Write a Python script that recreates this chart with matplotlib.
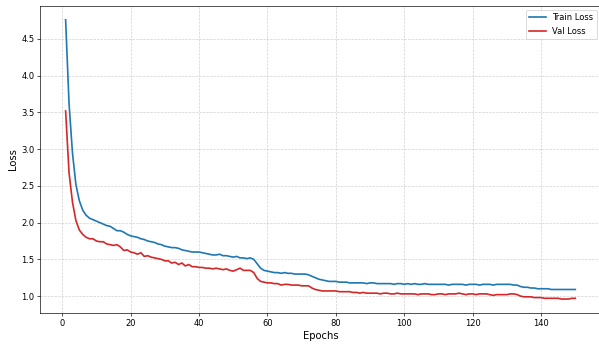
import numpy as np
import matplotlib.pyplot as plt

train_loss = [
    4.76, 3.62, 2.95, 2.52, 2.30, 2.17, 2.10, 2.06, 2.04, 2.02,
    2.00, 1.98, 1.96, 1.95, 1.92, 1.89, 1.89, 1.87, 1.84, 1.82,
    1.81, 1.80, 1.78, 1.77, 1.75, 1.74, 1.73, 1.71, 1.70, 1.68,
    1.67, 1.66, 1.66, 1.65, 1.63, 1.62, 1.61, 1.60, 1.60, 1.60,
    1.59, 1.58, 1.57, 1.56, 1.56, 1.57, 1.55, 1.55, 1.54, 1.53,
    1.54, 1.52, 1.52, 1.51, 1.52, 1.50, 1.44, 1.38, 1.35, 1.34,
    1.33, 1.32, 1.32, 1.31, 1.32, 1.31, 1.31, 1.30, 1.30, 1.30,
    1.30, 1.29, 1.27, 1.25, 1.23, 1.22, 1.21, 1.20, 1.20, 1.20,
    1.19, 1.19, 1.19, 1.18, 1.18, 1.18, 1.18, 1.18, 1.17, 1.18,
    1.18, 1.17, 1.17, 1.17, 1.17, 1.17, 1.16, 1.17, 1.17, 1.16,
    1.17, 1.16, 1.17, 1.16, 1.16, 1.17, 1.16, 1.16, 1.16, 1.16,
    1.16, 1.16, 1.15, 1.16, 1.16, 1.16, 1.16, 1.15, 1.16, 1.16,
    1.16, 1.15, 1.16, 1.16, 1.16, 1.15, 1.16, 1.16, 1.16, 1.16,
    1.16, 1.15, 1.15, 1.13, 1.12, 1.12, 1.11, 1.11, 1.10, 1.10,
    1.10, 1.10, 1.09, 1.09, 1.09, 1.09, 1.09, 1.09, 1.09, 1.09,
]

val_loss = [
    3.52, 2.68, 2.28, 2.03, 1.90, 1.84, 1.80, 1.78, 1.78, 1.75,
    1.74, 1.74, 1.71, 1.70, 1.69, 1.70, 1.67, 1.62, 1.63, 1.60,
    1.59, 1.57, 1.59, 1.54, 1.55, 1.53, 1.52, 1.51, 1.50, 1.48,
    1.48, 1.45, 1.46, 1.43, 1.45, 1.41, 1.43, 1.40, 1.40, 1.39,
    1.39, 1.38, 1.38, 1.37, 1.38, 1.37, 1.36, 1.37, 1.35, 1.34,
    1.36, 1.38, 1.35, 1.35, 1.35, 1.32, 1.24, 1.20, 1.19, 1.18,
    1.18, 1.17, 1.17, 1.15, 1.16, 1.16, 1.15, 1.15, 1.15, 1.14,
    1.14, 1.14, 1.11, 1.09, 1.08, 1.07, 1.07, 1.07, 1.07, 1.07,
    1.06, 1.06, 1.06, 1.06, 1.05, 1.05, 1.04, 1.05, 1.04, 1.04,
    1.04, 1.04, 1.03, 1.04, 1.04, 1.03, 1.03, 1.04, 1.03, 1.03,
    1.03, 1.03, 1.03, 1.02, 1.03, 1.03, 1.03, 1.02, 1.02, 1.03,
    1.03, 1.02, 1.03, 1.03, 1.03, 1.04, 1.03, 1.02, 1.03, 1.03,
    1.02, 1.03, 1.03, 1.03, 1.02, 1.01, 1.02, 1.02, 1.02, 1.02,
    1.03, 1.03, 1.02, 1.00, 0.99, 0.99, 0.99, 0.98, 0.98, 0.98,
    0.97, 0.97, 0.97, 0.97, 0.97, 0.96, 0.96, 0.96, 0.97, 0.97,
]

epochs = np.arange(1, len(train_loss) + 1)

fig = plt.figure(figsize=(599 / 60, 347 / 60), dpi=60)
ax = fig.add_axes([0.067, 0.098, 0.936, 0.885])
ax.plot(epochs, train_loss, color="#1f77b4", linewidth=2, label="Train Loss")
ax.plot(epochs, val_loss, color="#d62728", linewidth=2, label="Val Loss")
ax.set_xlabel("Epochs", fontsize=12)
ax.set_ylabel("Loss", fontsize=12)
ax.grid(True, linestyle="--", alpha=0.6)
ax.legend(loc="upper right")
fig.savefig("out.png", dpi=60)
